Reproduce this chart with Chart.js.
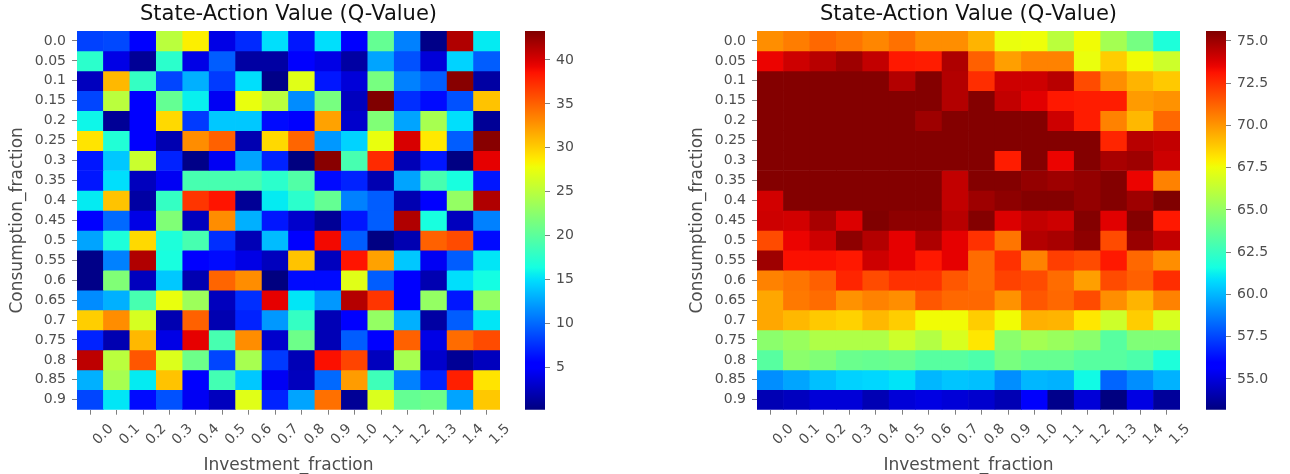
<!DOCTYPE html>
<html>
<head>
<meta charset="utf-8">
<title>State-Action Value (Q-Value)</title>
<script src="https://cdn.jsdelivr.net/npm/chart.js@4.4.0/dist/chart.umd.min.js"></script>
<style>
  body { margin: 0; background: #fff; }
  #wrap { position: relative; width: 1290px; height: 474px; overflow: hidden; }
  #wrap canvas { position: absolute; top: 0; }
</style>
</head>
<body>
<div id="wrap">
  <canvas id="heatLeft" width="515" height="474" style="left:0px"></canvas>
  <canvas id="barLeft" width="80" height="474" style="left:515px"></canvas>
  <canvas id="heatRight" width="515" height="474" style="left:680px"></canvas>
  <canvas id="barRight" width="94" height="474" style="left:1196px"></canvas>
</div>
<script>
// axis categories
const investLabels = ['0.0', '0.1', '0.2', '0.3', '0.4', '0.5', '0.6', '0.7', '0.8', '0.9', '1.0', '1.1', '1.2', '1.3', '1.4', '1.5'];
const consumptionLabels = ['0.0', '0.05', '0.1', '0.15', '0.2', '0.25', '0.3', '0.35', '0.4', '0.45', '0.5', '0.55', '0.6', '0.65', '0.7', '0.75', '0.8', '0.85', '0.9'];

// Q-values, one row per consumption fraction (left table)
const qLeft = [
  [8.3, 8.6, 5.2, 25.0, 28.5, 4.0, 7.3, 15.0, 6.5, 15.0, 5.5, 20.5, 11.0, 0.5, 41.5, 15.5],
  [17.5, 4.0, 1.0, 17.5, 4.0, 9.5, 1.5, 1.5, 5.0, 4.0, 1.5, 12.5, 9.0, 3.5, 14.5, 9.5],
  [2.5, 31.0, 18.0, 8.5, 13.0, 8.0, 15.0, 0.5, 27.0, 6.5, 3.5, 21.5, 11.0, 9.5, 43.0, 1.5],
  [8.5, 25.0, 5.0, 20.5, 15.7, 4.5, 27.5, 25.0, 11.5, 21.5, 2.5, 43.3, 7.5, 6.0, 9.0, 30.5],
  [16.0, 1.0, 5.0, 29.5, 8.0, 14.0, 14.0, 6.0, 5.5, 32.0, 3.0, 22.0, 12.5, 24.0, 15.0, 1.0],
  [29.0, 17.0, 5.0, 2.0, 33.0, 35.0, 2.0, 29.5, 34.8, 12.0, 14.5, 27.5, 40.0, 28.8, 9.5, 43.0],
  [6.5, 14.0, 25.8, 7.0, 0.5, 4.5, 12.5, 7.0, 0.17, 43.0, 19.0, 37.5, 2.2, 6.5, 0.3, 39.5],
  [6.5, 15.0, 2.5, 4.5, 19.0, 19.0, 19.0, 17.5, 19.5, 6.0, 7.0, 2.0, 12.5, 19.0, 16.5, 6.5],
  [15.5, 30.5, 1.5, 18.0, 37.0, 38.5, 1.0, 15.5, 17.5, 20.5, 11.0, 9.5, 2.0, 5.0, 23.0, 41.5],
  [5.5, 10.0, 4.0, 22.0, 2.5, 33.0, 13.0, 6.5, 3.0, 1.0, 6.5, 9.5, 41.5, 16.5, 2.5, 11.0],
  [12.5, 16.8, 29.5, 16.8, 19.0, 7.5, 2.2, 13.5, 5.0, 39.0, 9.5, 0.3, 2.0, 35.0, 36.0, 6.0],
  [0.5, 11.0, 41.5, 16.5, 5.0, 6.0, 4.0, 2.5, 30.5, 2.5, 38.5, 32.0, 14.0, 4.5, 9.5, 15.3],
  [0.5, 22.0, 2.5, 14.0, 2.0, 34.8, 33.0, 0.2, 6.0, 6.0, 27.0, 9.5, 5.0, 2.0, 15.0, 16.3],
  [11.5, 13.0, 19.0, 27.5, 23.5, 2.5, 7.5, 39.5, 15.3, 12.0, 41.3, 37.0, 5.0, 23.0, 6.5, 23.0],
  [30.0, 33.0, 26.5, 2.0, 35.0, 2.0, 7.0, 12.0, 18.0, 2.2, 5.0, 23.0, 13.0, 1.5, 9.5, 15.3],
  [7.0, 2.0, 31.0, 4.0, 39.5, 19.0, 33.0, 3.0, 21.0, 2.2, 9.5, 5.0, 35.0, 4.0, 34.5, 36.0],
  [41.0, 25.0, 35.5, 26.8, 21.0, 8.5, 24.0, 8.0, 2.2, 38.7, 36.3, 2.5, 24.0, 3.0, 1.0, 2.5],
  [13.0, 24.0, 15.5, 30.5, 5.0, 18.8, 14.0, 4.5, 2.5, 10.0, 32.3, 18.5, 11.0, 7.0, 38.0, 29.0],
  [8.5, 15.3, 6.0, 9.0, 4.5, 2.5, 27.0, 7.0, 12.5, 34.3, 1.0, 26.7, 20.5, 21.0, 12.5, 30.3]
];

// Q-values, one row per consumption fraction (right table)
const qRight = [
  [70.2, 70.6, 71.1, 70.8, 70.4, 70.9, 70.2, 70.2, 69.3, 67.4, 67.5, 66.1, 67.6, 65.5, 64.2, 61.8],
  [73.5, 74.1, 74.5, 75.0, 74.3, 73.0, 72.9, 74.7, 71.3, 69.8, 70.5, 70.5, 67.4, 68.7, 67.6, 66.6],
  [75.5, 75.5, 75.5, 75.5, 75.5, 74.6, 75.5, 74.6, 72.5, 74.1, 74.1, 74.5, 71.8, 70.2, 69.3, 68.8],
  [75.5, 75.5, 75.5, 75.5, 75.5, 75.5, 75.5, 74.6, 75.5, 74.3, 73.7, 73.0, 72.9, 72.9, 69.9, 70.1],
  [75.5, 75.5, 75.5, 75.5, 75.5, 75.5, 75.0, 75.5, 75.5, 75.5, 75.5, 74.1, 72.9, 70.5, 69.2, 71.1],
  [75.5, 75.5, 75.5, 75.5, 75.5, 75.5, 75.5, 75.5, 75.5, 75.5, 75.5, 75.5, 75.5, 72.7, 74.5, 74.3],
  [75.5, 75.5, 75.5, 75.5, 75.5, 75.5, 75.5, 75.5, 75.5, 72.9, 75.5, 73.5, 75.5, 74.8, 75.0, 74.1],
  [75.5, 75.5, 75.5, 75.5, 75.5, 75.5, 75.5, 74.3, 75.5, 75.5, 75.2, 75.0, 75.2, 75.5, 73.5, 70.5],
  [74.0, 75.5, 75.5, 75.5, 75.5, 75.5, 75.5, 74.3, 75.0, 75.3, 75.5, 75.5, 75.2, 75.5, 75.0, 75.59],
  [74.1, 74.0, 74.8, 73.8, 75.59, 75.3, 75.3, 74.5, 75.5, 73.8, 74.3, 74.1, 75.5, 73.7, 75.5, 73.0],
  [71.8, 73.5, 74.1, 75.3, 74.6, 73.6, 74.7, 73.6, 72.4, 70.8, 74.6, 74.8, 75.3, 71.8, 75.1, 74.3],
  [75.0, 73.2, 73.2, 73.0, 74.1, 73.6, 73.0, 73.6, 71.0, 72.4, 70.5, 72.1, 71.8, 73.0, 71.1, 70.2],
  [70.5, 70.8, 71.3, 72.7, 71.8, 72.4, 72.4, 71.5, 71.0, 72.0, 71.8, 71.0, 69.8, 71.8, 71.3, 72.5],
  [69.6, 70.7, 71.0, 70.1, 70.5, 70.2, 71.5, 71.1, 71.1, 70.1, 71.5, 71.1, 71.8, 70.2, 69.3, 70.5],
  [69.6, 69.2, 68.8, 68.6, 69.2, 68.7, 67.6, 67.6, 68.7, 67.6, 69.4, 69.3, 68.1, 66.6, 68.7, 66.9],
  [64.8, 65.2, 65.8, 65.8, 65.8, 66.6, 65.9, 66.9, 68.1, 64.8, 65.5, 65.2, 64.8, 63.4, 64.5, 64.5],
  [63.4, 64.8, 64.5, 63.9, 63.8, 63.9, 63.4, 63.4, 63.1, 64.3, 63.8, 63.8, 63.4, 63.4, 63.1, 61.8],
  [59.1, 59.6, 60.2, 60.6, 60.7, 61.0, 60.0, 60.3, 60.2, 59.1, 60.0, 59.9, 61.5, 58.2, 59.1, 59.9],
  [54.2, 54.4, 54.9, 54.9, 54.2, 54.9, 55.1, 54.9, 54.7, 54.2, 55.6, 53.4, 54.9, 53.18, 55.1, 53.7]
];

// colorbar ticks
const leftBarTicks = [5, 10, 15, 20, 25, 30, 35, 40];
const rightBarTicks = [55.0, 57.5, 60.0, 62.5, 65.0, 67.5, 70.0, 72.5, 75.0];

const FONT = "'DejaVu Sans', sans-serif";
const TEXT_COLOR = '#4d4d4d';
const TICK_COLOR = '#808080';

// matplotlib "jet" segment data
const JET = {
  r: [[0, 0], [0.35, 0], [0.66, 1], [0.89, 1], [1, 0.5]],
  g: [[0, 0], [0.125, 0], [0.375, 1], [0.64, 1], [0.91, 0], [1, 0]],
  b: [[0, 0.5], [0.11, 1], [0.34, 1], [0.65, 0], [1, 0]]
};

function channel(pts, t) {
  for (let i = 1; i < pts.length; i++) {
    if (t <= pts[i][0]) {
      const [x0, y0] = pts[i - 1];
      const [x1, y1] = pts[i];
      return y0 + (y1 - y0) * (t - x0) / (x1 - x0);
    }
  }
  return pts[pts.length - 1][1];
}

function jet(t) {
  t = Math.min(1, Math.max(0, t));
  const c = k => Math.round(255 * channel(JET[k], t));
  return 'rgb(' + c('r') + ',' + c('g') + ',' + c('b') + ')';
}

function range(values) {
  const flat = values.flat();
  return [Math.min(...flat), Math.max(...flat)];
}

function heatmap(canvasId, values) {
  const [vmin, vmax] = range(values);
  // one dataset per row, each cell a floating bar [row, row + 1]
  const datasets = values.map((row, r) => ({
    data: row.map(() => [r, r + 1]),
    backgroundColor: row.map(v => jet((v - vmin) / (vmax - vmin))),
    borderWidth: 0,
    barPercentage: 1,
    categoryPercentage: 1,
    grouped: false
  }));

  return new Chart(document.getElementById(canvasId), {
    type: 'bar',
    data: {labels: investLabels, datasets: datasets},
    options: {
      responsive: false,
      animation: false,
      layout: {padding: {left: 0, right: 15, top: 0, bottom: 0}},
      plugins: {
        legend: {display: false},
        tooltip: {enabled: false},
        title: {
          display: true,
          text: 'State-Action Value (Q-Value)',
          fullSize: false,
          color: '#111111',
          font: {family: FONT, size: 21, weight: 'normal'},
          padding: {top: 2, bottom: 3.8}
        }
      },
      scales: {
        x: {
          grid: {offset: false, drawOnChartArea: false, drawTicks: true, tickLength: 5, color: TICK_COLOR},
          border: {display: false},
          ticks: {
            autoSkip: false, minRotation: 45, maxRotation: 45, labelOffset: 21, padding: 6,
            color: TEXT_COLOR, font: {family: FONT, size: 14}
          },
          title: {
            display: true, text: 'Investment_fraction', color: TEXT_COLOR,
            font: {family: FONT, size: 17}, padding: {top: 0, bottom: -2}
          },
          afterFit: s => { s.height = 64.3; }
        },
        y: {
          type: 'linear',
          min: 0,
          max: consumptionLabels.length,
          reverse: true,
          afterBuildTicks: s => {
            s.ticks = consumptionLabels.map((_, i) => ({value: i + 0.5}));
          },
          grid: {drawOnChartArea: false, drawTicks: true, tickLength: 5, color: TICK_COLOR},
          border: {display: false},
          ticks: {
            autoSkip: false, padding: 6, color: TEXT_COLOR, font: {family: FONT, size: 14},
            callback: (v, i) => consumptionLabels[i]
          },
          title: {
            display: true, text: 'Consumption_fraction', color: TEXT_COLOR,
            font: {family: FONT, size: 17}, padding: {top: 7, bottom: 0}
          },
          afterFit: s => { s.width = 77; }
        }
      }
    }
  });
}

function colorbar(canvasId, values, tickValues, decimals, axisWidth) {
  const [vmin, vmax] = range(values);

  function gradient(chart) {
    const area = chart.chartArea;
    if (!area) return 'rgba(0,0,0,0)';
    const g = chart.ctx.createLinearGradient(0, area.bottom, 0, area.top);
    for (let i = 0; i <= 64; i++) {
      g.addColorStop(i / 64, jet(i / 64));
    }
    return g;
  }

  return new Chart(document.getElementById(canvasId), {
    type: 'bar',
    data: {
      labels: [''],
      datasets: [{
        data: [[vmin, vmax]],
        backgroundColor: ctx => gradient(ctx.chart),
        borderWidth: 0,
        barPercentage: 1,
        categoryPercentage: 1
      }]
    },
    options: {
      responsive: false,
      animation: false,
      layout: {padding: {left: 10, right: 0, top: 31, bottom: 64.3}},
      plugins: {legend: {display: false}, tooltip: {enabled: false}},
      scales: {
        x: {display: false},
        y: {
          position: 'right',
          min: vmin,
          max: vmax,
          afterBuildTicks: s => { s.ticks = tickValues.map(v => ({value: v})); },
          grid: {drawOnChartArea: false, drawTicks: true, tickLength: 5, color: TICK_COLOR},
          border: {display: false},
          ticks: {
            padding: 6, color: TEXT_COLOR, font: {family: FONT, size: 14},
            callback: v => v.toFixed(decimals)
          },
          afterFit: s => { s.width = axisWidth; }
        }
      }
    }
  });
}

heatmap('heatLeft', qLeft);
colorbar('barLeft', qLeft, leftBarTicks, 0, 50);
heatmap('heatRight', qRight);
colorbar('barRight', qRight, rightBarTicks, 1, 64);
</script>
</body>
</html>
